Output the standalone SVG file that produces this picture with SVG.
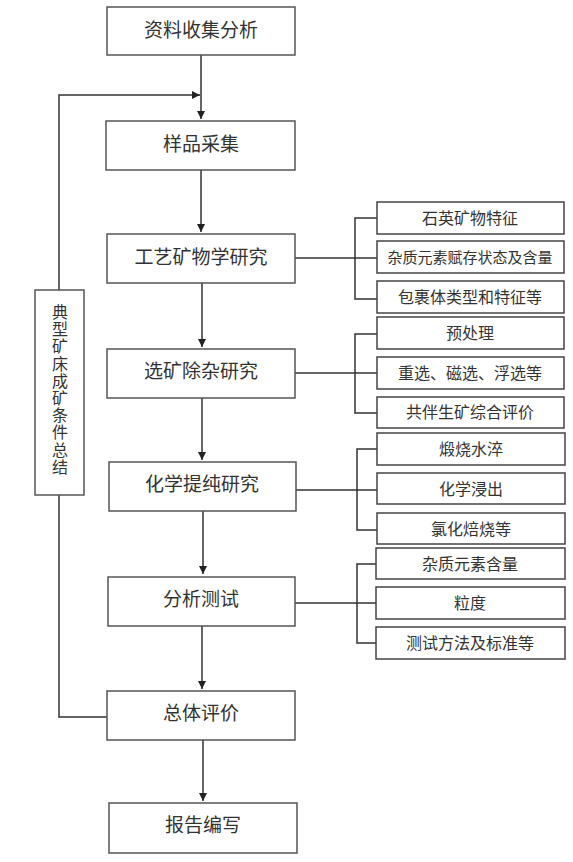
<svg xmlns="http://www.w3.org/2000/svg" width="573" height="862" viewBox="0 0 573 862">
<style>
.box{fill:#fff;stroke:#555;stroke-width:1.5}
.sub{fill:#fff;stroke:#444;stroke-width:1.5}
.ln{fill:none;stroke:#333;stroke-width:1.5}
.t{font-family:"Noto Sans CJK SC","Noto Sans",sans-serif;font-size:19px;fill:#333;text-anchor:middle;dominant-baseline:central}
.s{font-family:"Noto Sans CJK SC","Noto Sans",sans-serif;font-size:16px;fill:#333;text-anchor:middle;dominant-baseline:central}
.v{font-family:"Noto Sans CJK SC","Noto Sans",sans-serif;font-size:16px;fill:#333;text-anchor:middle;writing-mode:vertical-rl;letter-spacing:1.2px}
</style>
<defs>
<marker id="ah2" viewBox="0 0 10 10" refX="10" refY="5" markerWidth="9" markerHeight="8" orient="auto" markerUnits="userSpaceOnUse">
<path d="M0,0 L10,5 L0,10 z" fill="#222"/>
</marker>
</defs>
<g id="connectors">
<line class="ln" x1="201" y1="55" x2="201" y2="119" marker-end="url(#ah2)"/>
<line class="ln" x1="201" y1="170" x2="201" y2="232" marker-end="url(#ah2)"/>
<line class="ln" x1="202" y1="283" x2="202" y2="347" marker-end="url(#ah2)"/>
<line class="ln" x1="202" y1="398" x2="202" y2="460" marker-end="url(#ah2)"/>
<line class="ln" x1="203" y1="511" x2="203" y2="574" marker-end="url(#ah2)"/>
<line class="ln" x1="202" y1="626" x2="202" y2="689" marker-end="url(#ah2)"/>
<line class="ln" x1="203" y1="740" x2="203" y2="801" marker-end="url(#ah2)"/>
<polyline class="ln" points="107,717 59,717 59,95 200,95" marker-end="url(#ah2)"/>
<line class="ln" x1="295" y1="258" x2="377" y2="258"/>
<polyline class="ln" points="377,218 355,218 355,299 377,299"/>
<line class="ln" x1="295" y1="373" x2="377" y2="373"/>
<polyline class="ln" points="377,334 355,334 355,413 377,413"/>
<line class="ln" x1="296" y1="490" x2="377" y2="490"/>
<polyline class="ln" points="377,449 357,449 357,530 377,530"/>
<line class="ln" x1="295" y1="603" x2="376" y2="603"/>
<polyline class="ln" points="376,564 357,564 357,643 376,643"/>
</g>
<g id="n1"><rect class="box" x="107" y="7" width="188" height="48"/><text class="t" x="201" y="28">资料收集分析</text></g>
<g id="n2"><rect class="box" x="106" y="121" width="189" height="49"/><text class="t" x="201" y="142">样品采集</text></g>
<g id="n3"><rect class="box" x="107" y="234" width="188" height="49"/><text class="t" x="201" y="255">工艺矿物学研究</text></g>
<g id="n4"><rect class="box" x="107" y="349" width="188" height="49"/><text class="t" x="201" y="369">选矿除杂研究</text></g>
<g id="n5"><rect class="box" x="109" y="462" width="187" height="49"/><text class="t" x="202" y="482">化学提纯研究</text></g>
<g id="n6"><rect class="box" x="108" y="577" width="187" height="49"/><text class="t" x="201" y="597">分析测试</text></g>
<g id="n7"><rect class="box" x="107" y="691" width="188" height="49"/><text class="t" x="201" y="711">总体评价</text></g>
<g id="n8"><rect class="box" x="109" y="803" width="188" height="50"/><text class="t" x="203" y="823">报告编写</text></g>
<g id="side"><rect class="box" x="35" y="290" width="49" height="205"/>
<text class="v" x="60" y="390">典型矿床成矿条件总结</text></g>
<g id="s1"><rect class="sub" x="377" y="202" width="187" height="32"/><text class="s" x="470" y="217">石英矿物特征</text></g>
<g id="s2"><rect class="sub" x="377" y="241" width="187" height="32"/><text class="s" style="font-size:15px" x="470" y="256">杂质元素赋存状态及含量</text></g>
<g id="s3"><rect class="sub" x="377" y="281" width="187" height="32"/><text class="s" x="470" y="296">包裹体类型和特征等</text></g>
<g id="s4"><rect class="sub" x="377" y="317" width="187" height="32"/><text class="s" x="470" y="332">预处理</text></g>
<g id="s5"><rect class="sub" x="377" y="357" width="187" height="32"/><text class="s" x="470" y="372">重选、磁选、浮选等</text></g>
<g id="s6"><rect class="sub" x="377" y="397" width="187" height="31"/><text class="s" x="470" y="411">共伴生矿综合评价</text></g>
<g id="s7"><rect class="sub" x="377" y="433" width="188" height="32"/><text class="s" x="471" y="448">煅烧水淬</text></g>
<g id="s8"><rect class="sub" x="377" y="473" width="188" height="31"/><text class="s" x="471" y="488">化学浸出</text></g>
<g id="s9"><rect class="sub" x="377" y="513" width="188" height="31"/><text class="s" x="471" y="528">氯化焙烧等</text></g>
<g id="s10"><rect class="sub" x="376" y="548" width="189" height="31"/><text class="s" x="470" y="563">杂质元素含量</text></g>
<g id="s11"><rect class="sub" x="376" y="587" width="189" height="32"/><text class="s" x="470" y="602">粒度</text></g>
<g id="s12"><rect class="sub" x="376" y="627" width="189" height="32"/><text class="s" x="470" y="642">测试方法及标准等</text></g>
</svg>
